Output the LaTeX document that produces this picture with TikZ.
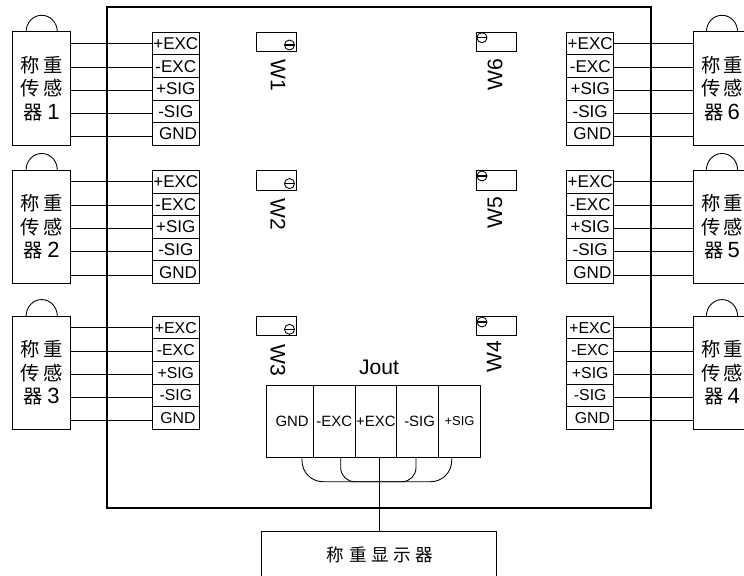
\documentclass[tikz,border=0pt]{standalone}
\usepackage{fontspec}
\setmainfont{Liberation Sans}
\newfontfamily\cjk{Noto Sans CJK SC}
\begin{document}
\begin{tikzpicture}[x=.02cm, y=-.02cm, line width=.5pt]

\tikzstyle{every node} = [inner sep=0pt, outer sep=0pt]
\tikzstyle{sensor} = [rectangle, draw, minimum width=1.16cm, minimum height=2.27cm, align=center, font=\fontsize{11}{13.2}\selectfont\cjk]
\tikzstyle{term} = [rectangle, draw, minimum width=.94cm, minimum height=.452cm, font=\fontsize{9.7}{11}\selectfont]
\tikzstyle{termsm} = [term, font=\fontsize{9}{11}\selectfont]
\tikzstyle{jcell} = [rectangle, draw, minimum width=.834cm, minimum height=1.44cm, font=\fontsize{8.5}{10}\selectfont]
\tikzstyle{trim} = [rectangle, draw, minimum width=.8cm, minimum height=.39cm]
\tikzstyle{screw} = [circle, draw, minimum size=.2cm]
\tikzstyle{tag} = [font=\fontsize{12}{14}\selectfont]
\tikzstyle{hood} = [x radius=.312cm, y radius=.33cm, start angle=180, end angle=0]

\path[use as bounding box, clip] (0,0) rectangle (744,575);

\node[rectangle, draw, line width=.7pt, minimum width=10.88cm, minimum height=10.02cm] (board) at (379,257.5) {};

% sensors
\node[sensor] (s1) at (41.7,88.5) {称\,重\\传\,感\\器 {\rmfamily\fontsize{12.5}{13.2}\selectfont 1}};
\node[sensor] (s2) at (41.7,226.7) {称\,重\\传\,感\\器 {\rmfamily\fontsize{12.5}{13.2}\selectfont 2}};
\node[sensor] (s3) at (41.7,372.8) {称\,重\\传\,感\\器 {\rmfamily\fontsize{12.5}{13.2}\selectfont 3}};
\node[sensor] (s4) at (722,372.8) {称\,重\\传\,感\\器 {\rmfamily\fontsize{12.5}{13.2}\selectfont 4}};
\node[sensor] (s5) at (722,226.7) {称\,重\\传\,感\\器 {\rmfamily\fontsize{12.5}{13.2}\selectfont 5}};
\node[sensor] (s6) at (722,88.5) {称\,重\\传\,感\\器 {\rmfamily\fontsize{12.5}{13.2}\selectfont 6}};

\draw ([xshift=-.312cm]s1.north) arc [hood];
\draw ([xshift=-.312cm]s2.north) arc [hood];
\draw ([xshift=-.312cm]s3.north) arc [hood];
\draw ([xshift=-.312cm]s4.north) arc [hood];
\draw ([xshift=-.312cm]s5.north) arc [hood];
\draw ([xshift=-.312cm]s6.north) arc [hood];

% terminals left
\node[term] (t1a) at (175.8,43.6) {+EXC};
\node[term] (t1b) at (175.8,66.2) {-EXC};
\node[term] (t1c) at (175.8,88.8) {+SIG};
\node[term] (t1d) at (175.8,111.4) {-SIG};
\node[term] (t1e) at (175.8,134) {\hspace{2.5pt}GND};

\node[term] (t2a) at (175.8,181.8) {+EXC};
\node[term] (t2b) at (175.8,204.4) {-EXC};
\node[term] (t2c) at (175.8,227) {+SIG};
\node[term] (t2d) at (175.8,249.6) {-SIG};
\node[term] (t2e) at (175.8,272.2) {\hspace{2.5pt}GND};

\node[termsm] (t3a) at (175.8,327.6) {+EXC};
\node[termsm] (t3b) at (175.8,350.2) {-EXC};
\node[termsm] (t3c) at (175.8,372.8) {+SIG};
\node[termsm] (t3d) at (175.8,395.4) {-SIG};
\node[termsm] (t3e) at (175.8,418) {\hspace{2.5pt}GND};

% terminals right
\node[termsm] (t4a) at (590.2,327.6) {+EXC};
\node[termsm] (t4b) at (590.2,350.2) {-EXC};
\node[termsm] (t4c) at (590.2,372.8) {+SIG};
\node[termsm] (t4d) at (590.2,395.4) {-SIG};
\node[termsm] (t4e) at (590.2,418) {\hspace{2.5pt}GND};

\node[term] (t5a) at (590.2,181.8) {+EXC};
\node[term] (t5b) at (590.2,204.4) {-EXC};
\node[term] (t5c) at (590.2,227) {+SIG};
\node[term] (t5d) at (590.2,249.6) {-SIG};
\node[term] (t5e) at (590.2,272.2) {\hspace{2.5pt}GND};

\node[term] (t6a) at (590.2,43.6) {+EXC};
\node[term] (t6b) at (590.2,66.2) {-EXC};
\node[term] (t6c) at (590.2,88.8) {+SIG};
\node[term] (t6d) at (590.2,111.4) {-SIG};
\node[term] (t6e) at (590.2,134) {\hspace{2.5pt}GND};

% wires
\draw (t1a.180) -- (t1a.180 -| s1.east);
\draw (t1b.182) -- (t1b.182 -| s1.east);
\draw (t1c.183) -- (t1c.183 -| s1.east);
\draw (t1d.185) -- (t1d.185 -| s1.east);
\draw (t1e.187) -- (t1e.187 -| s1.east);

\draw (t2a.180) -- (t2a.180 -| s2.east);
\draw (t2b.182) -- (t2b.182 -| s2.east);
\draw (t2c.183) -- (t2c.183 -| s2.east);
\draw (t2d.185) -- (t2d.185 -| s2.east);
\draw (t2e.187) -- (t2e.187 -| s2.east);

\draw (t3a.180) -- (t3a.180 -| s3.east);
\draw (t3b.182) -- (t3b.182 -| s3.east);
\draw (t3c.183) -- (t3c.183 -| s3.east);
\draw (t3d.185) -- (t3d.185 -| s3.east);
\draw (t3e.187) -- (t3e.187 -| s3.east);

\draw (t4a.0) -- (t4a.0 -| s4.west);
\draw (t4b.358) -- (t4b.358 -| s4.west);
\draw (t4c.357) -- (t4c.357 -| s4.west);
\draw (t4d.355) -- (t4d.355 -| s4.west);
\draw (t4e.353) -- (t4e.353 -| s4.west);

\draw (t5a.0) -- (t5a.0 -| s5.west);
\draw (t5b.358) -- (t5b.358 -| s5.west);
\draw (t5c.357) -- (t5c.357 -| s5.west);
\draw (t5d.355) -- (t5d.355 -| s5.west);
\draw (t5e.353) -- (t5e.353 -| s5.west);

\draw (t6a.0) -- (t6a.0 -| s6.west);
\draw (t6b.358) -- (t6b.358 -| s6.west);
\draw (t6c.357) -- (t6c.357 -| s6.west);
\draw (t6d.355) -- (t6d.355 -| s6.west);
\draw (t6e.353) -- (t6e.353 -| s6.west);

% trimmers
\node[trim] (w1) at (276.7,41.7) {};
\node[trim] (w2) at (276.7,180.3) {};
\node[trim] (w3) at (276.7,326) {};
\node[trim] (w4) at (496,326) {};
\node[trim] (w5) at (496,180.3) {};
\node[trim] (w6) at (496,41.7) {};

\node[screw] (k1) at (289.5,45) {};
\node[screw] (k2) at (289.5,183.6) {};
\node[screw] (k3) at (289.5,329.3) {};
\node[screw] (k4) at (482,322) {};
\node[screw] (k5) at (482,176) {};
\node[screw] (k6) at (482,37.7) {};

\draw[line width=.8pt] (k1.west) -- (k1.east);
\draw[line width=.8pt] (k2.west) -- (k2.east);
\draw[line width=.8pt] (k3.west) -- (k3.east);
\draw[line width=.8pt] (k4.west) -- (k4.east);
\draw[line width=.8pt] (k5.west) -- (k5.east);
\draw[line width=.8pt] (k6.west) -- (k6.east);

\node[tag, rotate=-90] (l1) at (278,75) {W1};
\node[tag, rotate=-90] (l2) at (278,214) {W2};
\node[tag, rotate=-90] (l3) at (278,360.5) {W3};
\node[tag, rotate=90] (l4) at (494,356.7) {W4};
\node[tag, rotate=90] (l5) at (495,213) {W5};
\node[tag, rotate=90] (l6) at (495,75) {W6};

% output block
\node[font=\fontsize{12}{14}\selectfont] (jout) at (379,367) {Jout};

\node[jcell, minimum width=.932cm] (j1) at (290,421) {\hspace{2.4pt}GND};
\node[jcell] (j2) at (334.2,421) {-EXC};
\node[jcell] (j3) at (375.9,421) {+EXC};
\node[jcell] (j4) at (417.5,421) {\hspace{2.4pt}-SIG};
\node[jcell, minimum width=.846cm, font=\fontsize{7.4}{9}\selectfont] (j5) at (459.5,421) {+SIG\hspace{2.4pt}};

\coordinate (ca) at (302,457);
\coordinate (cb) at (451.7,457);
\coordinate (cc) at (340.7,457);
\coordinate (cd) at (416,457);
\coordinate (ce) at (379.3,481.7);

\draw[rounded corners=.42cm] (ca) |- (ce) -| (cb);
\draw[rounded corners=.28cm] (cc) |- (ce) -| (cd);

% display
\node[rectangle, draw, minimum width=4.7cm, minimum height=1.2cm] (disp) at (379.2,561.5) {};
\node[font=\fontsize{10}{12}\selectfont\cjk] (disptxt) at (380,555) {称\hspace{2.6pt}重\hspace{2.6pt}显\hspace{2.6pt}示\hspace{2.6pt}器};

\draw (disp.north) -- (disp.north |- j3.south);

\end{tikzpicture}
\end{document}
